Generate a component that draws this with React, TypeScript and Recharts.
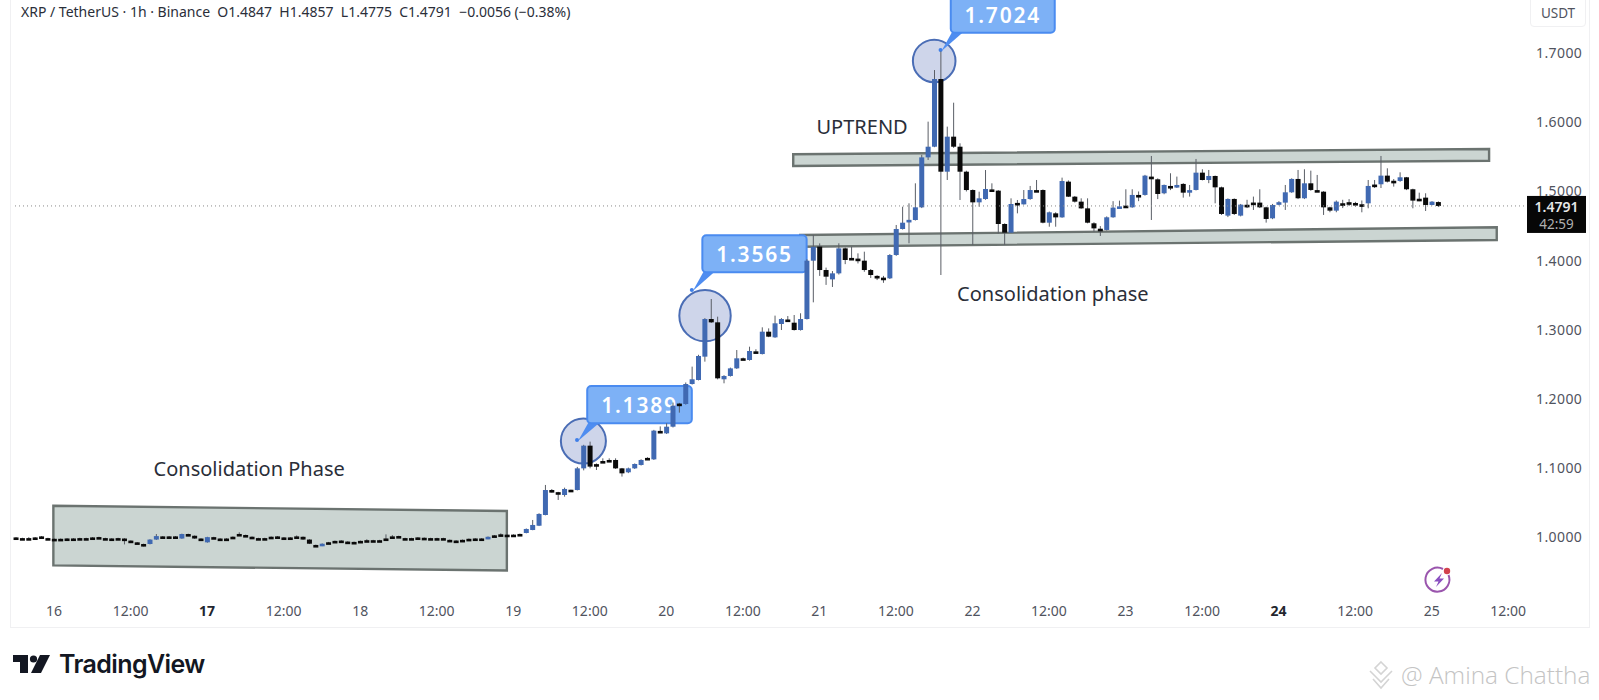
import React from 'react';
import {
  ComposedChart,
  Bar,
  XAxis,
  YAxis,
  ReferenceArea,
  ReferenceDot,
  ReferenceLine,
} from 'recharts';

// hourly candles, hour 0 = the 16th at 00:00
const firstHour = -6;

const opens = [
  1.0001, 0.9991, 0.9991, 1.0001, 1.0016, 0.9991,
  0.9981, 0.9981, 0.9986, 0.9986, 0.9991, 0.9991, 1.0001, 1.0006, 0.9991, 0.9986, 0.9991, 0.9985,
  0.9955, 0.993, 0.9906, 0.9906, 0.997, 1.0016, 1.0016, 1.0016, 0.9985, 1.005, 1.0025, 0.9985,
  0.993, 1.0005, 0.9985, 0.9985, 1.0011, 1.0051, 1.0036, 1.0011, 0.9991, 0.9991, 1.0011, 1.0016,
  1.0001, 1.0001, 1.0016, 1.001, 0.997, 0.9892, 0.988, 0.9931, 0.9951, 0.9956, 0.9941, 0.9936,
  0.9951, 0.9961, 0.9961, 0.9961, 0.9986, 1.0016, 1.0021, 0.9991, 0.9991, 1.0001, 0.9996, 0.9991,
  0.9991, 0.9991, 0.9966, 0.9956, 0.9966, 0.9981, 0.9986, 0.9986, 0.998, 1.0031, 1.0046, 1.0041, 1.0041, 1.0051,
  1.0065, 1.0108, 1.017, 1.0325, 1.0686, 1.0655, 1.0614, 1.069, 1.0686, 1.0999, 1.1327, 1.106,
  1.1105, 1.112, 1.112, 1.0999, 1.0942, 1.0999, 1.1048, 1.115, 1.1129, 1.154, 1.1505, 1.1601,
  1.1935, 1.1929, 1.2218, 1.2276, 1.2613, 1.3157, 1.3109, 1.2286, 1.2334, 1.2444, 1.259, 1.2565,
  1.269, 1.2651, 1.2974, 1.2892, 1.3085, 1.315, 1.3104, 1.2998, 1.3157, 1.4, 1.4203, 1.3865,
  1.373, 1.3817, 1.4178, 1.404, 1.403, 1.4, 1.3865, 1.378, 1.3755, 1.3745, 1.4082, 1.4458,
  1.4565, 1.4588, 1.4771, 1.5493, 1.5647, 1.6625, 1.5286, 1.5792, 1.5647, 1.5286, 1.5021, 1.4843,
  1.4891, 1.503, 1.5012, 1.453, 1.4405, 1.4835, 1.4814, 1.4891, 1.502, 1.5021, 1.4549, 1.4684,
  1.4626, 1.5142, 1.4925, 1.4853, 1.4756, 1.454, 1.4462, 1.4444, 1.4627, 1.4775, 1.4795, 1.4771,
  1.495, 1.495, 1.5215, 1.5176, 1.4974, 1.508, 1.5075, 1.5109, 1.4995, 1.5022, 1.5272, 1.5166,
  1.5224, 1.506, 1.4651, 1.4892, 1.4651, 1.4808, 1.484, 1.4839, 1.4771, 1.4612, 1.4835, 1.4839,
  1.4988, 1.5181, 1.4902, 1.5118, 1.502, 1.4997, 1.4771, 1.4723, 1.483, 1.4845, 1.4834, 1.4815,
  1.4829, 1.51, 1.5104, 1.5229, 1.5155, 1.5152, 1.5205, 1.5032, 1.4895, 1.4911, 1.4805, 1.4847,
];

const highs = [
  1.0006, 0.9996, 1.0005, 1.0006, 1.0021, 0.9996,
  0.9986, 0.9986, 0.9991, 0.9991, 0.9996, 0.9996, 1.0006, 1.0011, 0.9996, 0.9991, 0.9996, 0.999,
  0.996, 0.9935, 0.9911, 0.9975, 1.005, 1.0021, 1.0021, 1.0021, 1.0055, 1.0055, 1.003, 0.999,
  1.001, 1.001, 0.999, 0.999, 1.0016, 1.0075, 1.0041, 1.0016, 0.9996, 0.9996, 1.0016, 1.0021,
  1.0006, 1.0006, 1.003, 1.0015, 0.9975, 0.9897, 0.9915, 0.9936, 0.9956, 0.9961, 0.9946, 0.9941,
  0.9956, 0.9975, 0.9966, 0.9966, 1.0045, 1.0035, 1.0026, 0.9996, 0.9996, 1.0006, 1.0001, 0.9996,
  0.9996, 0.9996, 0.9971, 0.9961, 0.9971, 0.9986, 0.9991, 0.9991, 1.0015, 1.0036, 1.006, 1.0046, 1.0046, 1.0056,
  1.013, 1.0253, 1.035, 1.0759, 1.07, 1.066, 1.072, 1.069, 1.102, 1.1339, 1.1385, 1.107,
  1.1144, 1.1144, 1.1144, 1.1005, 1.101, 1.107, 1.113, 1.116, 1.1555, 1.1605, 1.165, 1.195,
  1.1945, 1.224, 1.2469, 1.264, 1.317, 1.3446, 1.3191, 1.2345, 1.2455, 1.2709, 1.26, 1.2757,
  1.272, 1.3037, 1.3022, 1.3206, 1.317, 1.32, 1.3215, 1.324, 1.402, 1.4371, 1.425, 1.39,
  1.385, 1.4251, 1.419, 1.4203, 1.4106, 1.413, 1.388, 1.379, 1.378, 1.4095, 1.4516, 1.478,
  1.4829, 1.5118, 1.553, 1.6009, 1.6755, 1.7024, 1.5937, 1.6283, 1.5696, 1.53, 1.503, 1.4997,
  1.531, 1.5118, 1.502, 1.454, 1.4901, 1.4877, 1.5021, 1.508, 1.5166, 1.503, 1.471, 1.47,
  1.52, 1.516, 1.4935, 1.4901, 1.4901, 1.4555, 1.45, 1.464, 1.486, 1.4868, 1.5032, 1.5032,
  1.5, 1.524, 1.5513, 1.519, 1.51, 1.5263, 1.5215, 1.512, 1.5094, 1.547, 1.5321, 1.5311,
  1.523, 1.507, 1.49, 1.49, 1.482, 1.488, 1.4926, 1.5032, 1.478, 1.482, 1.486, 1.5094,
  1.519, 1.5311, 1.5321, 1.5301, 1.5239, 1.5005, 1.478, 1.487, 1.488, 1.489, 1.485, 1.487,
  1.5166, 1.5166, 1.5513, 1.5335, 1.518, 1.5277, 1.521, 1.504, 1.4983, 1.4974, 1.486, 1.4857,
];

const lows = [
  0.9975, 0.998, 0.998, 0.999, 1.0005, 0.998,
  0.997, 0.997, 0.9975, 0.9975, 0.998, 0.998, 0.999, 0.9995, 0.998, 0.9975, 0.998, 0.99,
  0.9925, 0.9905, 0.987, 0.99, 0.9965, 1.0005, 1.0005, 1.0005, 0.998, 1.002, 0.998, 0.995,
  0.9925, 0.9985, 0.996, 0.997, 1.0, 1.004, 1.0025, 1.0, 0.998, 0.998, 1.0, 1.0005,
  0.999, 0.999, 1.0005, 0.9965, 0.9905, 0.9881, 0.9875, 0.992, 0.994, 0.9945, 0.9925, 0.9925,
  0.994, 0.995, 0.995, 0.995, 0.9975, 1.0005, 1.001, 0.998, 0.998, 0.999, 0.9985, 0.998,
  0.998, 0.998, 0.9955, 0.9945, 0.9955, 0.997, 0.9975, 0.9975, 0.9975, 1.002, 1.0035, 1.003, 1.003, 1.004,
  1.006, 1.0105, 1.0165, 1.032, 1.065, 1.0542, 1.059, 1.067, 1.068, 1.097, 1.1, 1.0975,
  1.108, 1.11, 1.099, 1.088, 1.093, 1.099, 1.104, 1.113, 1.112, 1.1515, 1.1495, 1.159,
  1.1804, 1.192, 1.221, 1.227, 1.2541, 1.31, 1.2285, 1.2228, 1.2325, 1.2435, 1.257, 1.2555,
  1.2665, 1.2645, 1.2895, 1.2885, 1.2998, 1.313, 1.299, 1.299, 1.315, 1.3398, 1.378, 1.365,
  1.362, 1.38, 1.395, 1.402, 1.396, 1.384, 1.375, 1.372, 1.368, 1.3735, 1.407, 1.445,
  1.4251, 1.458, 1.476, 1.5455, 1.564, 1.3793, 1.5166, 1.563, 1.4877, 1.5, 1.4227, 1.478,
  1.488, 1.5, 1.4395, 1.4227, 1.44, 1.4684, 1.481, 1.488, 1.5, 1.454, 1.4491, 1.4491,
  1.462, 1.492, 1.484, 1.475, 1.454, 1.4419, 1.4357, 1.4435, 1.462, 1.477, 1.477, 1.4765,
  1.486, 1.494, 1.4588, 1.489, 1.496, 1.502, 1.505, 1.4911, 1.4926, 1.5015, 1.516, 1.512,
  1.4829, 1.466, 1.463, 1.466, 1.464, 1.476, 1.4733, 1.476, 1.455, 1.46, 1.48, 1.4733,
  1.498, 1.489, 1.489, 1.501, 1.5, 1.4661, 1.47, 1.47, 1.476, 1.479, 1.478, 1.4699,
  1.4757, 1.505, 1.505, 1.513, 1.507, 1.514, 1.502, 1.4757, 1.486, 1.4718, 1.48, 1.4775,
];

const closes = [
  0.9995, 0.9985, 0.9985, 0.9995, 1.001, 0.9985,
  0.9975, 0.9975, 0.998, 0.998, 0.9985, 0.9985, 0.9995, 1.0, 0.9985, 0.998, 0.9985, 0.9955,
  0.993, 0.991, 0.99, 0.997, 1.002, 1.001, 1.001, 1.001, 1.005, 1.0025, 0.9985, 0.9955,
  1.0005, 0.999, 0.9965, 0.9975, 1.0005, 1.0045, 1.003, 1.0005, 0.9985, 0.9985, 1.0005, 1.001,
  0.9995, 0.9995, 1.001, 0.997, 0.991, 0.9886, 0.991, 0.9925, 0.9945, 0.995, 0.9935, 0.993,
  0.9945, 0.9955, 0.9955, 0.9955, 0.998, 1.001, 1.0015, 0.9985, 0.9985, 0.9995, 0.999, 0.9985,
  0.9985, 0.9985, 0.996, 0.995, 0.996, 0.9975, 0.998, 0.998, 1.001, 1.0025, 1.004, 1.0035, 1.0035, 1.0045,
  1.0123, 1.0181, 1.034, 1.0686, 1.066, 1.064, 1.0701, 1.0675, 1.0999, 1.1327, 1.1024, 1.104,
  1.1095, 1.111, 1.0999, 1.0927, 1.0999, 1.1062, 1.112, 1.114, 1.1544, 1.1525, 1.1601, 1.1905,
  1.1925, 1.2218, 1.2286, 1.2623, 1.3157, 1.3109, 1.23, 1.2334, 1.2444, 1.2589, 1.258, 1.2695,
  1.2675, 1.2974, 1.2902, 1.3095, 1.3157, 1.314, 1.2998, 1.3157, 1.4, 1.42, 1.3865, 1.3769,
  1.3817, 1.4178, 1.401, 1.403, 1.4015, 1.3865, 1.3793, 1.3769, 1.3745, 1.4082, 1.4458, 1.4549,
  1.459, 1.4771, 1.5493, 1.5647, 1.6625, 1.5286, 1.5792, 1.5647, 1.5286, 1.5021, 1.4843, 1.4901,
  1.5036, 1.5015, 1.453, 1.4405, 1.4819, 1.4825, 1.4891, 1.5021, 1.501, 1.4549, 1.4699, 1.4626,
  1.5151, 1.4925, 1.4853, 1.4756, 1.4549, 1.4467, 1.445, 1.4627, 1.4767, 1.4785, 1.479, 1.495,
  1.4945, 1.5229, 1.5176, 1.4964, 1.5094, 1.507, 1.5094, 1.4983, 1.502, 1.5272, 1.5166, 1.5224,
  1.506, 1.4675, 1.4892, 1.4675, 1.481, 1.48, 1.483, 1.4771, 1.4603, 1.4805, 1.4845, 1.4988,
  1.5181, 1.4902, 1.5118, 1.5022, 1.501, 1.4771, 1.4723, 1.4853, 1.4825, 1.4838, 1.4796, 1.481,
  1.508, 1.509, 1.5229, 1.5142, 1.515, 1.5205, 1.5032, 1.4868, 1.4885, 1.4805, 1.4853, 1.4791,
];

const priceTicks = [1.0, 1.1, 1.2, 1.3, 1.4, 1.5, 1.6, 1.7];
const hourTicks = [0, 12, 24, 36, 48, 60, 72, 84, 96, 108, 120, 132, 144, 156, 168, 180, 192, 204, 216, 228];
const hourLabels = ['16', '12:00', '17', '12:00', '18', '12:00', '19', '12:00', '20', '12:00', '21', '12:00', '22', '12:00', '23', '12:00', '24', '12:00', '25', '12:00'];
const boldLabels = ['17', '24'];
const lastPrice = 1.4791;

// slanted boxes drawn on the chart: hours, then price at the four corners
const zones = [
  { fromHour: -0.1, toHour: 71, leftTop: 1.0458, leftBottom: 0.9597, rightTop: 1.0383, rightBottom: 0.9522 },
  { fromHour: 115.9, toHour: 225, leftTop: 1.5538, leftBottom: 1.5368, rightTop: 1.5614, rightBottom: 1.5445 },
  { fromHour: 117, toHour: 226.2, leftTop: 1.4371, leftBottom: 1.4202, rightTop: 1.4483, rightBottom: 1.4299 },
];

// circled swing highs: centre and half extent in hours and price
const circles = [
  { hour: 83, price: 1.1394, halfHours: 3.53, halfPrice: 0.0325 },
  { hour: 102.07, price: 1.3205, halfHours: 4.03, halfPrice: 0.0371 },
  { hour: 138, price: 1.6886, halfHours: 3.34, halfPrice: 0.0308 },
];

const callouts = [
  { text: '1.1389', fromHour: 83.6, toHour: 100, top: 1.2189, bottom: 1.165, tipHour: 82, tipPrice: 1.1409 },
  { text: '1.3565', fromHour: 101.65, toHour: 118, top: 1.4367, bottom: 1.3832, tipHour: 100, tipPrice: 1.3577 },
  { text: '1.7024', fromHour: 140.6, toHour: 156.9, top: 1.7825, bottom: 1.7295, tipHour: 139, tipPrice: 1.7045 },
];

const notes = [
  { text: 'Consolidation Phase', hour: 30.6, price: 1.099 },
  { text: 'UPTREND', hour: 126.7, price: 1.5936 },
  { text: 'Consolidation phase', hour: 156.6, price: 1.3519 },
];

const candles = opens.map((open, i) => ({
  hour: firstHour + i,
  open,
  high: highs[i],
  low: lows[i],
  close: closes[i],
}));

const UP = '#4069b2';
const DOWN = '#0a0a0a';
const FONT = '"Noto Sans", sans-serif';

const Candle = (props: any) => {
  const { x, y, width, height, payload } = props;
  const { open, high, low, close } = payload;
  const perPrice = Math.abs(height) / (high - low);
  const top = y + (high - Math.max(open, close)) * perPrice;
  const bodyHeight = Math.max(Math.abs(open - close) * perPrice, 2.6);
  const mid = x + width / 2;
  return (
    <g>
      <line x1={mid} x2={mid} y1={y} y2={y + Math.abs(height)} stroke="#5a5e66" strokeWidth={1} />
      <rect x={x} y={top} width={width} height={bodyHeight} fill={close >= open ? UP : DOWN} />
    </g>
  );
};

const zoneShape = (zone: (typeof zones)[number]) => (props: any) => {
  const { x, y, width, height } = props;
  const maxP = Math.max(zone.leftTop, zone.rightTop);
  const minP = Math.min(zone.leftBottom, zone.rightBottom);
  const py = (p: number) => y + ((maxP - p) / (maxP - minP)) * height;
  const pts = [
    [x, py(zone.leftTop)],
    [x + width, py(zone.rightTop)],
    [x + width, py(zone.rightBottom)],
    [x, py(zone.leftBottom)],
  ];
  return <polygon points={pts.map((p) => p.join(',')).join(' ')} fill="#cbd5d2" stroke="#6b7370" strokeWidth={2.4} />;
};

const circleShape = (props: any) => (
  <ellipse
    cx={props.x + props.width / 2}
    cy={props.y + props.height / 2}
    rx={props.width / 2}
    ry={props.height / 2}
    fill="#ced5ea"
    stroke="#4a6db5"
    strokeWidth={2}
  />
);

const calloutShape = (c: (typeof callouts)[number]) => (props: any) => {
  const { x, y, width, height } = props;
  const perHour = width / (c.toHour - c.fromHour);
  const perPrice = height / (c.top - c.bottom);
  const tipX = x + (c.tipHour - c.fromHour) * perHour;
  const tipY = y + (c.top - c.tipPrice) * perPrice;
  const bottom = y + height;
  return (
    <g>
      <polygon points={`${x + 2},${bottom - 2} ${x + 14},${bottom - 2} ${tipX + 1},${tipY + 1}`} fill="#4f8df0" />
      <circle cx={tipX} cy={tipY} r={2} fill="#3f7fe8" />
      <rect x={x} y={y} width={width} height={height} rx={4} fill="#7db1f6" stroke="#4a8bf0" strokeWidth={2} />
      <text
        x={x + width / 2}
        y={y + height / 2 + 8.5}
        textAnchor="middle"
        fill="#fff"
        fontFamily={FONT}
        fontSize={21}
        fontWeight={600}
        letterSpacing={1.8}
      >
        {c.text}
      </text>
    </g>
  );
};

const noteShape = (text: string) => (props: any) => (
  <text x={props.cx} y={props.cy + 7} textAnchor="middle" fill="#2a2e39" fontFamily={FONT} fontSize={20}>
    {text}
  </text>
);

const HourTick = (props: any) => {
  const { x, y, payload } = props;
  const label = hourLabels[hourTicks.indexOf(payload.value)];
  const bold = boldLabels.includes(label);
  return (
    <text x={x} y={y + 11} textAnchor="middle" fontFamily={FONT} fontSize={14} fontWeight={bold ? 700 : 400} fill={bold ? '#23262e' : '#50535e'}>
      {label}
    </text>
  );
};

const PriceTag = (props: any) => {
  const { viewBox } = props;
  const left = viewBox.x + viewBox.width - 1;
  const mid = viewBox.y;
  return (
    <g fontFamily={FONT} textAnchor="middle">
      <rect x={left} y={mid - 10} width={59} height={37} fill="#070707" />
      <text x={left + 29.5} y={mid + 6} fill="#e8e8e8" fontSize={14} fontWeight={600}>
        {lastPrice.toFixed(4)}
      </text>
      <text x={left + 29.5} y={mid + 23} fill="#b0b0b0" fontSize={13.5}>
        42:59
      </text>
    </g>
  );
};

const BoltIcon = () => (
  <svg width={34} height={34} style={{ position: 'absolute', left: 1422, top: 563 }}>
    <path d="M 26.5 12 A 12 12 0 1 1 21 6" fill="none" stroke="#9a55ad" strokeWidth={2} />
    <path d="M 20 10 L 12 18.5 L 16.5 18.5 L 14 24 L 22 15.5 L 17.5 15.5 Z" fill="#8a4fc0" />
    <circle cx={25} cy={8} r={3.2} fill="#d2424e" />
  </svg>
);

const TvLogo = () => (
  <svg width={40} height={24} style={{ position: 'absolute', left: 13, top: 653 }}>
    <path d="M 0 2 H 15 V 20 H 7 V 9 H 0 Z" fill="#131722" />
    <circle cx={20.5} cy={6} r={3.6} fill="#131722" />
    <path d="M 27 2 H 37 L 28 20 H 18 Z" fill="#131722" />
  </svg>
);

const Watermark = () => (
  <svg width={34} height={34} style={{ position: 'absolute', left: 1365, top: 659 }}>
    <g fill="none" stroke="#d4d4d4" strokeWidth={1.6}>
      <path d="M 16 3 L 22 9 L 16 15 L 10 9 Z" />
      <path d="M 5 12 L 11 18 L 16 23 L 21 18 L 27 12" />
      <path d="M 8 20 L 16 29 L 24 20" />
    </g>
  </svg>
);

export default function App() {
  return (
    <div style={{ position: 'absolute', left: 0, top: 0, width: 1599, height: 700, background: '#fff', overflow: 'hidden' }}>
      <div style={{ position: 'absolute', left: 10, top: -2, width: 1578, height: 628, border: '1px solid #f0f0f2' }} />
      <ComposedChart
        width={1599}
        height={700}
        data={candles}
        margin={{ top: 0, right: 10, left: 12, bottom: 73 }}
        style={{ position: 'absolute', left: 0, top: 0 }}
      >
        <XAxis
          dataKey="hour"
          type="number"
          domain={[-6.585, 231.1]}
          ticks={hourTicks}
          interval={0}
          height={30}
          axisLine={false}
          tickLine={false}
          tick={<HourTick />}
        />
        <YAxis
          orientation="right"
          type="number"
          domain={[0.914, 1.7767]}
          ticks={priceTicks}
          width={61}
          axisLine={false}
          tickLine={false}
          tickMargin={2}
          tickFormatter={(v: number) => v.toFixed(4)}
          tick={{ fontFamily: FONT, fontSize: 14, fill: '#50535e', letterSpacing: 0.4 }}
        />
        {zones.map((z) => (
          <ReferenceArea
            key={z.fromHour}
            x1={z.fromHour}
            x2={z.toHour}
            y1={Math.min(z.leftBottom, z.rightBottom)}
            y2={Math.max(z.leftTop, z.rightTop)}
            shape={zoneShape(z)}
          />
        ))}
        {circles.map((c) => (
          <ReferenceArea
            key={c.hour}
            x1={c.hour - c.halfHours}
            x2={c.hour + c.halfHours}
            y1={c.price - c.halfPrice}
            y2={c.price + c.halfPrice}
            shape={circleShape}
          />
        ))}
        {callouts.map((c) => (
          <ReferenceArea
            key={c.text}
            x1={c.fromHour}
            x2={c.toHour}
            y1={c.bottom}
            y2={c.top}
            ifOverflow="visible"
            shape={calloutShape(c)}
          />
        ))}
        {notes.map((n) => (
          <ReferenceDot key={n.text} x={n.hour} y={n.price} r={1} shape={noteShape(n.text)} />
        ))}
        <ReferenceLine y={lastPrice} stroke="#8a8a8a" strokeDasharray="1 3" label={<PriceTag />} />
        <Bar dataKey={(d: any) => [d.low, d.high]} barSize={5} isAnimationActive={false} shape={<Candle />} />
      </ComposedChart>

      <div style={{ position: 'absolute', left: 21, top: 2, fontFamily: FONT, fontSize: 14, color: '#2a2e39', whiteSpace: 'pre' }}>
        {'XRP / TetherUS · 1h · Binance  O1.4847  H1.4857  L1.4775  C1.4791  −0.0056 (−0.38%)'}
      </div>
      <div style={{ position: 'absolute', left: 1530, top: -4, width: 54, height: 29, border: '1px solid #f0f0f2', borderRadius: 4, textAlign: 'center', lineHeight: '33px', fontFamily: FONT, fontSize: 13.5, color: '#50535e' }}>
        USDT
      </div>
      <BoltIcon />
      <TvLogo />
      <div style={{ position: 'absolute', left: 59, top: 649, fontFamily: 'Inter, sans-serif', fontSize: 25, fontWeight: 600, color: '#131722', letterSpacing: -0.6 }}>
        TradingView
      </div>
      <Watermark />
      <div style={{ position: 'absolute', left: 1401, top: 658, fontFamily: '"Open Sans", sans-serif', fontSize: 24.4, fontWeight: 300, color: '#c4c4c4', whiteSpace: 'pre' }}>
        @ Amina Chattha
      </div>
    </div>
  );
}
